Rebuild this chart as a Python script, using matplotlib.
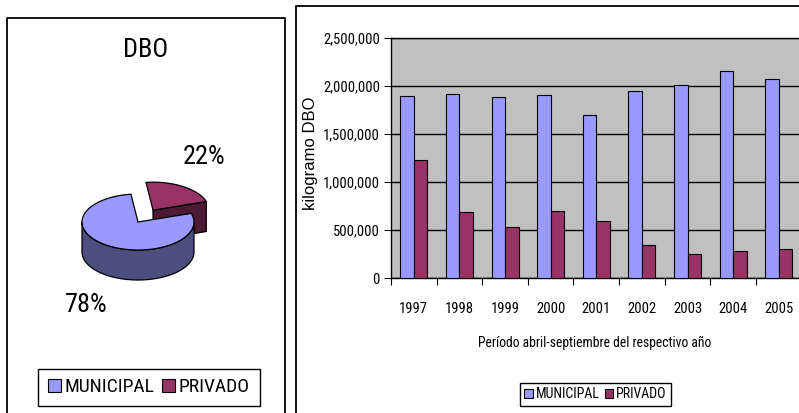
import numpy as np
import matplotlib
matplotlib.use("Agg")
import matplotlib.pyplot as plt
from matplotlib.patches import Polygon, Patch
from matplotlib.ticker import StrMethodFormatter

plt.rcParams['font.family'] = ['Roboto Condensed', 'DejaVu Sans']

# --- data ---
years = ['1997', '1998', '1999', '2000', '2001', '2002', '2003', '2004', '2005']
municipal = [1899000, 1917000, 1889000, 1903000, 1698000, 1951000, 2010000, 2153000, 2073000]
privado = [1229000, 688000, 528000, 701000, 590000, 340000, 247000, 278000, 299000]
pie_labels = ['MUNICIPAL', 'PRIVADO']
pie_share = [78, 22]

c_mun, c_mun_side = '#9999FF', '#4D4D80'
c_pri, c_pri_side = '#993366', '#4D1A33'

fig = plt.figure(figsize=(7.99, 4.13), dpi=100)

# background axes in pixel coordinates (panel frames + 3d pie)
bg = fig.add_axes([0, 0, 1, 1], zorder=0)
bg.set_xlim(0, 799)
bg.set_ylim(413, 0)
bg.axis('off')

# panel frames
bg.plot([7, 7, 285, 285], [413, 18, 18, 413], color='black', lw=1.3)
bg.plot([296, 296, 799], [413, 6, 6], color='black', lw=1.3)

# --- 3D pie ---
cx, cy, rx, ry, depth = 138, 222, 56, 28, 30
start = 18.0
ang_pri = 360 * pie_share[1] / sum(pie_share)
a0p, a1p = start, start + ang_pri
a0m, a1m = a1p, start + 360


def pt(a, ox=0, oy=0, dz=0):
    t = np.radians(a)
    return (cx + ox + rx * np.cos(t), cy + oy - ry * np.sin(t) + dz)


def arc(a0, a1, ox=0, oy=0, dz=0, n=80):
    return [pt(a, ox, oy, dz) for a in np.linspace(a0, a1, n)]


edge = dict(edgecolor='black', lw=0.9, joinstyle='round')

# exploded slice offset
mid = np.radians((a0p + a1p) / 2)
ox, oy = 0.5 * rx * np.cos(mid), -0.5 * ry * np.sin(mid)
pc = (cx + ox, cy + oy)

# privado: cut face at start angle, then top
e = pt(a0p, ox, oy)
face = [pc, e, (e[0], e[1] + depth), (pc[0], pc[1] + depth)]
bg.add_patch(Polygon(face, closed=True, facecolor=c_pri_side, **edge))
bg.add_patch(Polygon([pc] + arc(a0p, a1p, ox, oy), closed=True, facecolor=c_pri, **edge))

# municipal: front side, then top
side = arc(180, 360) + arc(360, 180, dz=depth)
bg.add_patch(Polygon(side, closed=True, facecolor=c_mun_side, **edge))
bg.add_patch(Polygon([(cx, cy)] + arc(a0m, a1m), closed=True, facecolor=c_mun, **edge))

bg.text(146, 50, 'DBO', fontsize=19, ha='center', va='center')
bg.text(204, 157, f'{pie_share[1]}%', fontsize=19, ha='center', va='center')
bg.text(86, 305, f'{pie_share[0]}%', fontsize=19, ha='center', va='center')

handles = [Patch(facecolor=c_mun, edgecolor='black', lw=0.8),
           Patch(facecolor=c_pri, edgecolor='black', lw=0.8)]
fig.legend(handles, pie_labels, loc='center', bbox_to_anchor=(149 / 799, 1 - 387.5 / 413),
           ncol=2, fontsize=14, frameon=True, fancybox=False, edgecolor='black',
           framealpha=1, handlelength=0.65, handleheight=0.65, handletextpad=0.2,
           columnspacing=0.4, borderpad=0.5, borderaxespad=0)

# --- bar chart ---
ax = fig.add_axes([391 / 799, 1 - 278 / 413, 410.6 / 799, 240 / 413], zorder=1)
ax.set_facecolor('#C0C0C0')
x = np.arange(len(years)) + 0.5
w = 0.295
ax.bar(x - w / 2, municipal, w, color=c_mun, edgecolor='black', lw=0.8, zorder=3)
ax.bar(x + w / 2, privado, w, color=c_pri, edgecolor='black', lw=0.8, zorder=3)

ax.set_xlim(0, len(years))
ax.set_ylim(0, 2500000)
ax.set_yticks(np.arange(0, 2500001, 500000))
ax.yaxis.set_major_formatter(StrMethodFormatter('{x:,.0f}'))
ax.yaxis.grid(True, color='black', lw=1, zorder=1)
ax.set_axisbelow(True)
ax.set_xticks(np.arange(0, len(years) + 1))
ax.set_xticklabels([])
ax.set_xticks(x, minor=True)
ax.set_xticklabels(years, minor=True, fontsize=10.5)
ax.tick_params(axis='x', which='major', direction='out', length=5, color='black')
ax.tick_params(axis='x', which='minor', length=0, pad=17)
ax.tick_params(axis='y', direction='out', length=5, labelsize=10.5, pad=3)
for s in ax.spines.values():
    s.set_color('black')
    s.set_linewidth(1)

ax.set_xlabel('Período abril-septiembre del respectivo año', fontsize=9.8)
ax.xaxis.set_label_coords((595 - 391) / 410.6, -(336 - 278) / 240)
ax.set_ylabel('kilogramo DBO', fontsize=12, family=['Liberation Sans', 'DejaVu Sans'])
ax.yaxis.set_label_coords((318 - 391) / 410.6, (278 - 153) / 240)

fig.legend(handles, ['MUNICIPAL', 'PRIVADO'], loc='center',
           bbox_to_anchor=(595.5 / 799, 1 - 394.5 / 413), ncol=2, fontsize=10,
           frameon=True, fancybox=False, edgecolor='black', framealpha=1,
           handlelength=0.6, handleheight=0.6, handletextpad=0.2, columnspacing=0.4,
           borderpad=0.35, borderaxespad=0)

fig.savefig('out.png', dpi=100)
